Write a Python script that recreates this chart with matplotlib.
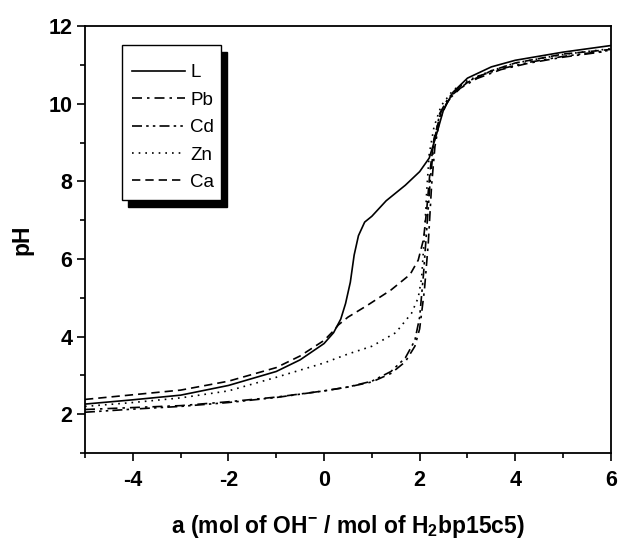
import matplotlib
matplotlib.use("Agg")
import matplotlib.pyplot as plt
from matplotlib.patches import Rectangle
from matplotlib.ticker import MultipleLocator

plt.rcParams['font.family'] = 'Liberation Sans'
plt.rcParams['mathtext.fontset'] = 'custom'
plt.rcParams['mathtext.rm'] = 'Liberation Sans:bold'
plt.rcParams['mathtext.default'] = 'rm'
plt.rcParams['axes.unicode_minus'] = False

# titration curves
x_L = [-5, -4, -3, -2, -1, -0.5, 0, 0.2, 0.35, 0.45, 0.55, 0.63, 0.72, 0.85, 1.0, 1.3,
       1.7, 2.0, 2.2, 2.35, 2.5, 2.7, 3.0, 3.5, 4.0, 5.0, 6.0]
y_L = [2.26, 2.37, 2.49, 2.74, 3.1, 3.4, 3.82, 4.1, 4.45, 4.85, 5.4, 6.1, 6.6, 6.95, 7.1, 7.5,
       7.9, 8.25, 8.6, 9.2, 9.85, 10.3, 10.66, 10.95, 11.12, 11.33, 11.5]

x_Pb = [-5, -4, -3, -2, -1, 0, 0.5, 1.0, 1.4, 1.7, 1.9, 2.0, 2.1, 2.18, 2.25, 2.32, 2.42,
        2.6, 2.85, 3.2, 3.7, 4.3, 5.0, 5.9]
y_Pb = [2.12, 2.17, 2.22, 2.32, 2.44, 2.6, 2.7, 2.83, 3.05, 3.35, 3.75, 4.2, 5.2, 6.4, 7.9, 8.9, 9.6,
        10.1, 10.4, 10.65, 10.88, 11.05, 11.2, 11.35]

x_Cd = [-5, -4, -3, -2, -1, 0, 0.5, 1.0, 1.4, 1.7, 1.9, 2.0, 2.08, 2.15, 2.22, 2.3, 2.42,
        2.6, 2.85, 3.2, 3.7, 4.3, 5.0, 6.0]
y_Cd = [2.05, 2.13, 2.2, 2.3, 2.43, 2.6, 2.7, 2.85, 3.1, 3.45, 3.9, 4.5, 5.6, 6.8, 8.0, 9.0, 9.75,
        10.15, 10.45, 10.7, 10.9, 11.07, 11.22, 11.38]

x_Zn = [-5, -4, -3, -2, -1, 0, 0.5, 1.0, 1.5, 1.83, 1.97, 2.04, 2.1, 2.15, 2.2, 2.3, 2.45,
        2.7, 3.0, 3.5, 4.0, 5.0, 6.0]
y_Zn = [2.2, 2.3, 2.42, 2.6, 2.95, 3.32, 3.55, 3.75, 4.1, 4.6, 5.0, 5.5, 6.6, 7.8, 8.7, 9.4, 9.95,
        10.35, 10.6, 10.85, 11.05, 11.27, 11.42]

x_Ca = [-5, -4, -3, -2, -1, -0.5, 0, 0.2, 0.3, 0.5, 0.9, 1.4, 1.8, 1.97, 2.08, 2.15, 2.22,
        2.3, 2.45, 2.7, 3.0, 3.5, 4.0, 5.0, 6.0]
y_Ca = [2.38, 2.5, 2.62, 2.85, 3.2, 3.5, 3.9, 4.15, 4.3, 4.5, 4.8, 5.2, 5.6, 5.97, 6.5, 7.3, 8.3,
        9.1, 9.8, 10.25, 10.55, 10.85, 11.05, 11.28, 11.4]

fig = plt.figure(figsize=(6.18, 5.41), dpi=100)
ax = fig.add_axes([0.1375, 0.1627, 0.851, 0.789])

lw = 1.2
ax.plot(x_L, y_L, color='black', lw=lw, ls='-', label='L')
ax.plot(x_Pb, y_Pb, color='black', lw=lw, ls=(0, (6, 3, 1.5, 3)), label='Pb')
ax.plot(x_Cd, y_Cd, color='black', lw=lw, ls=(0, (6, 2.5, 1.5, 2.5, 1.5, 2.5)), label='Cd')
ax.plot(x_Zn, y_Zn, color='black', lw=lw, ls=(0, (1, 3)), label='Zn')
ax.plot(x_Ca, y_Ca, color='black', lw=lw, ls=(0, (5, 3)), label='Ca')

ax.set_xlim(-5, 6)
ax.set_ylim(1, 12)
ax.xaxis.set_major_locator(MultipleLocator(2))
ax.xaxis.set_minor_locator(MultipleLocator(1))
ax.yaxis.set_major_locator(MultipleLocator(2))
ax.yaxis.set_minor_locator(MultipleLocator(1))
ax.tick_params(which='both', direction='out', width=1.2, top=False, right=False)
ax.tick_params(which='major', length=6, labelsize=15.5)
ax.tick_params(which='minor', length=3.5)
ax.tick_params(axis='x', which='major', pad=6)
ax.tick_params(axis='y', which='major', pad=3)
for lab in ax.get_xticklabels() + ax.get_yticklabels():
    lab.set_fontweight('bold')
for sp in ax.spines.values():
    sp.set_linewidth(1.3)

ax.set_xlabel('a (mol of OH$^{-}$ / mol of H$_{2}$bp15c5)', fontsize=16.5, fontweight='bold', labelpad=16)
ax.set_ylabel('pH', fontsize=16.5, fontweight='bold', labelpad=11)

# legend box with a solid black drop shadow
ax.add_patch(Rectangle((0.0817, 0.5761), 0.1883, 0.3630, transform=ax.transAxes,
                       facecolor='black', edgecolor='black', zorder=4))
ax.add_patch(Rectangle((0.0703, 0.5925), 0.1883, 0.3630, transform=ax.transAxes,
                       facecolor='white', edgecolor='black', lw=1.0, zorder=5))
leg = ax.legend(loc='upper left', bbox_to_anchor=(0.0894, 0.911), borderaxespad=0,
                borderpad=0, fontsize=13.5, handlelength=2.85, handletextpad=0.25,
                labelspacing=0.55, frameon=False)
leg.set_zorder(6)

fig.savefig('out.png', dpi=100)
